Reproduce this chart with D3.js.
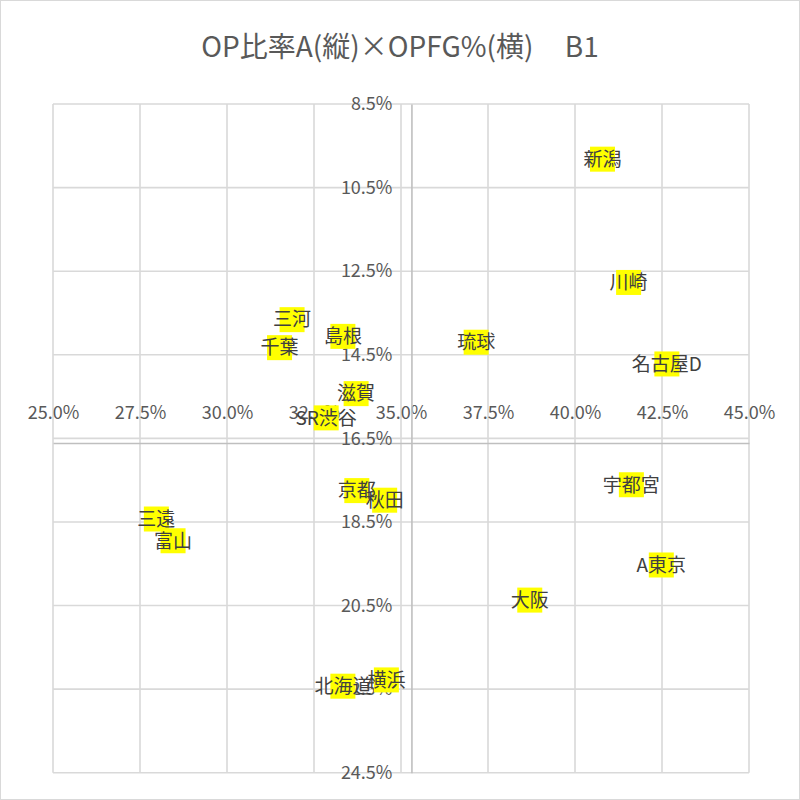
<!DOCTYPE html>
<html>
<head>
<meta charset="utf-8">
<script src="https://cdn.jsdelivr.net/npm/d3@7"></script>
<style>
  html, body { margin: 0; padding: 0; background: #fff; }
  svg text { font-family: "Noto Sans CJK JP", "Noto Sans", sans-serif; }
</style>
</head>
<body>
<svg id="chart" width="800" height="800"></svg>
<script>
const titleText = "OP比率A(縦)×OPFG%(横)     B1";
const names = ["新潟","川崎","名古屋D","琉球","三河","千葉","島根","滋賀","SR渋谷","宇都宮","京都","秋田","三遠","富山","A東京","大阪","北海道","横浜"];
const opfg  = [40.79, 41.54, 42.64, 37.16, 31.87, 31.51, 33.33, 33.71, 32.85, 41.62, 33.73, 34.53, 27.97, 28.45, 42.48, 38.70, 33.33, 34.58];
const opRatio = [9.82, 12.77, 14.72, 14.20, 13.66, 14.33, 14.06, 15.43, 16.01, 17.61, 17.75, 17.98, 18.43, 18.95, 19.53, 20.37, 22.43, 22.28];
const xTicks = [25.0, 27.5, 30.0, 32.5, 35.0, 37.5, 40.0, 42.5, 45.0];
const yTicks = [8.5, 10.5, 12.5, 14.5, 16.5, 18.5, 20.5, 22.5, 24.5];
const xCross = 35.30;   // vertical axis crosses here
const yCross = 16.61;   // horizontal axis crosses here

const svg = d3.select("#chart");
const x = d3.scaleLinear().domain([25, 45]).range([53, 749]);
const y = d3.scaleLinear().domain([8.5, 24.5]).range([104, 772.7]);

// outer border
svg.append("rect").attr("x", 0.5).attr("y", 0.5).attr("width", 799).attr("height", 799)
  .attr("fill", "#fff").attr("stroke", "#d9d9d9");

// title
svg.append("text").attr("x", 400).attr("y", 57).attr("text-anchor", "middle")
  .attr("font-size", 28).attr("fill", "#595959").style("white-space", "pre")
  .text(titleText);

// gridlines
const grid = svg.append("g");
grid.selectAll("line.v").data(xTicks).join("line")
  .attr("x1", d => x(d)).attr("x2", d => x(d)).attr("y1", y(8.5)).attr("y2", y(24.5))
  .attr("stroke", "#d9d9d9").attr("stroke-width", 1.6);
grid.selectAll("line.h").data(yTicks).join("line")
  .attr("x1", x(25)).attr("x2", x(45)).attr("y1", d => y(d)).attr("y2", d => y(d))
  .attr("stroke", "#d9d9d9").attr("stroke-width", 1.6);

// horizontal axis (labels on top because the vertical axis is reversed)
const xAxis = d3.axisTop(x).tickValues(xTicks).tickSize(0).tickPadding(24)
  .tickFormat(d => d3.format(".1f")(d) + "%");
const gx = svg.append("g").attr("transform", `translate(0,${y(yCross)})`).call(xAxis);
gx.select(".domain").attr("stroke", "#bfbfbf").attr("stroke-width", 1.6);
gx.selectAll("text").attr("font-size", 18).attr("fill", "#595959").attr("font-family", null);

// vertical axis
const yAxis = d3.axisLeft(y).tickValues(yTicks).tickSize(0).tickPadding(19)
  .tickFormat(d => d3.format(".1f")(d) + "%");
const gy = svg.append("g").attr("transform", `translate(${x(xCross)},0)`).call(yAxis);
gy.select(".domain").attr("stroke", "#bfbfbf").attr("stroke-width", 1.6);
gy.selectAll("text").attr("font-size", 18).attr("fill", "#595959").attr("font-family", null);

// data
const data = names.map((n, i) => ({ name: n, x: opfg[i], y: opRatio[i] }));
const ms = 25;
svg.append("g").selectAll("rect").data(data).join("rect")
  .attr("x", d => x(d.x) - ms / 2).attr("y", d => y(d.y) - ms / 2)
  .attr("width", ms).attr("height", ms).attr("fill", "#ffff00");
svg.append("g").selectAll("text").data(data).join("text")
  .attr("x", d => x(d.x)).attr("y", d => y(d.y)).attr("dy", "0.36em")
  .attr("text-anchor", "middle").attr("font-size", 19).attr("fill", "#404040")
  .text(d => d.name);
</script>
</body>
</html>
